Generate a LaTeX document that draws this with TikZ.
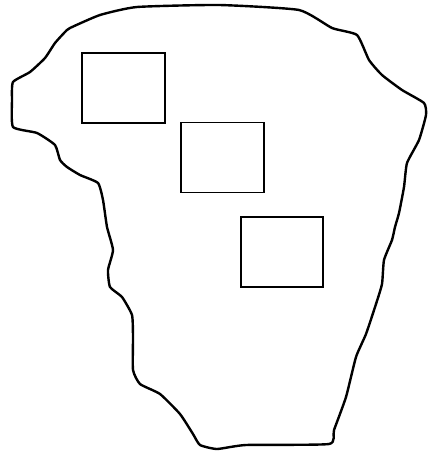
\documentclass[tikz,border=0pt]{standalone}
\usepackage{tikz}

\begin{document}
\begin{tikzpicture}[
  x=1pt, y=-1pt,
  outline/.style={line width=2.4pt, line join=round},
  box/.style={draw, line width=1.8pt, inner sep=0pt, minimum width=83pt,
              minimum height=70pt}
]
\useasboundingbox (0,0) rectangle (438,454);
% irregular region
\draw[outline] plot[smooth cycle, tension=0.3] coordinates {
  (137,7) (219,5) (299,10) (332,28) (357,35) (369,60) (382,75) (402,90)
  (424,103) (426,115) (419,140) (407,163) (404,187) (399,213) (395,227)
  (392,240) (384,260) (382,284) (376,304) (366,334) (356,357) (346,397)
  (334,430) (329,444) (246,445) (217,449) (200,445) (193,434) (180,414)
  (160,394) (140,384) (133,370) (133,337) (132,315) (122,297) (110,287)
  (108,270) (113,250) (107,227) (103,200) (98,183) (80,175) (67,167)
  (60,160) (55,145) (37,133) (13,127) (12,100) (13,82) (30,72) (45,58)
  (55,43) (65,32) (70,28) (100,15)};
\node[box] (first) at (123.5,88) {};
\node[box] (second) at (222.5,157.5) {};
\node[box, minimum width=82pt] (third) at (282,252) {};
\end{tikzpicture}
\end{document}
